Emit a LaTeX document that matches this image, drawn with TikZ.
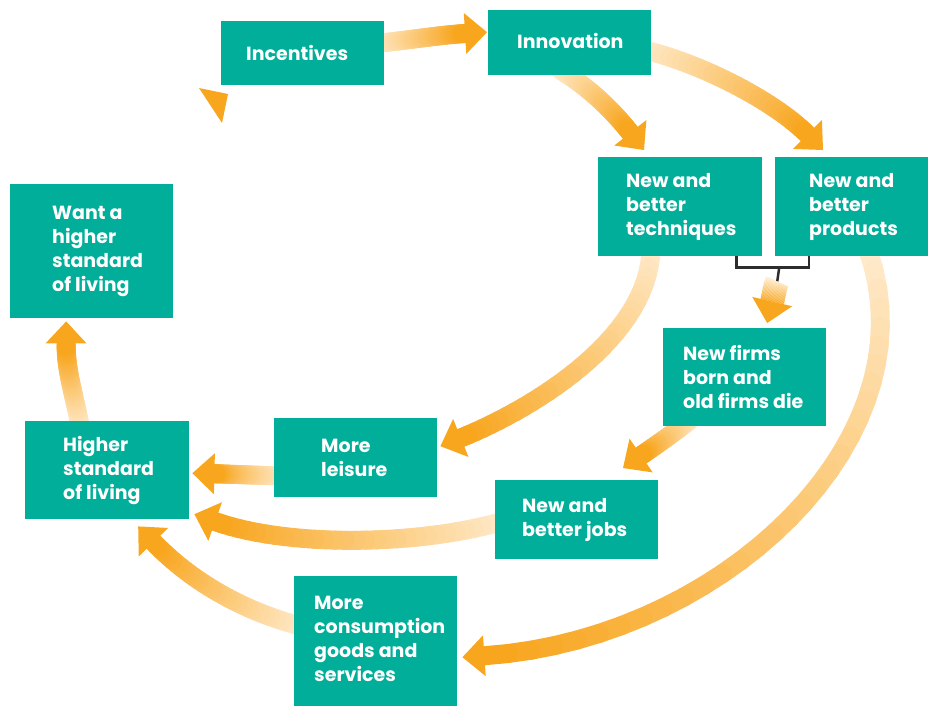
\documentclass[tikz,border=0pt]{standalone}
\usepackage{fontspec}
\setmainfont{Poppins}
\usetikzlibrary{calc,backgrounds}
\definecolor{boxteal}{RGB}{0,174,153}
\definecolor{aorange}{RGB}{248,166,30}
\definecolor{apale}{RGB}{255,234,203}
\definecolor{brkcol}{RGB}{45,45,45}
\tikzset{
  box/.style={fill=boxteal, draw=none, inner sep=0pt, anchor=north west},
  txt/.style={text=white, font=\bfseries\fontsize{19}{24}\selectfont, align=left, inner sep=0pt, anchor=west},
  brk/.style={draw=brkcol, line width=2.5pt}
}
% #1 extra band style, #2 start, #3 ctrl1, #4 ctrl2, #5 tip, #6 id
\newcommand\garrow[6][]{%
  \coordinate (#6-d) at ($(#5)!22pt!(#4)$);
  \path (#2) .. controls (#3) and (#4) .. (#6-d)
    \foreach \i [evaluate=\i as \t using \i/30] in {0,...,30} {coordinate[pos=\t] (#6-\i)};
  \foreach \i [evaluate=\i as \j using int(\i+1), evaluate=\i as \c using 100*\i/29] in {0,...,29}
    {\draw[line width=19pt, line cap=round, color=aorange!\c!apale, #1] (#6-\i) -- (#6-\j);}
  \fill[aorange] (#5) -- ($(#6-d)!20.5pt!90:(#4)$) -- ($(#6-d)!20.5pt!-90:(#4)$) -- cycle;
}
\begin{document}
\begin{tikzpicture}[x=1pt,y=-1pt]
\useasboundingbox (0,0) rectangle (928,706);
% boxes
\node[box, minimum width=163pt, minimum height=64pt] (inc) at (221,21) {};
\node[box, minimum width=163pt, minimum height=65pt] (innov) at (488,10) {};
\node[box, minimum width=164pt, minimum height=99pt] (tech) at (598,157) {};
\node[box, minimum width=153pt, minimum height=99pt] (prod) at (775,157) {};
\node[box, minimum width=163pt, minimum height=134pt] (want) at (10,184) {};
\node[box, minimum width=163pt, minimum height=98pt] (firms) at (663,328) {};
\node[box, minimum width=164pt, minimum height=98pt] (higher) at (25,421) {};
\node[box, minimum width=163pt, minimum height=79pt] (leisure) at (274,418) {};
\node[box, minimum width=163pt, minimum height=79pt] (jobs) at (495,480) {};
\node[box, minimum width=163pt, minimum height=130pt] (cons) at (294,576) {};
% texts
\node[txt] (tinc) at ($(inc.west)+(25,0)$) {Incentives};
\node[txt] (tinnov) at ($(innov.west)+(29,-2)$) {Innovation};
\node[txt] (ttech) at ($(tech.west)+(28,0)$) {New and\\better\\techniques};
\node[txt] (tprod) at ($(prod.west)+(34,0)$) {New and\\better\\products};
\node[txt] (twant) at ($(want.west)+(42,0)$) {Want a\\higher\\standard\\of living};
\node[txt] (tfirms) at ($(firms.west)+(20,0)$) {New firms\\born and\\old firms die};
\node[txt] (thigher) at ($(higher.west)+(38,0)$) {Higher\\standard\\of living};
\node[txt] (tleisure) at ($(leisure.west)+(47,0)$) {More\\leisure};
\node[txt] (tjobs) at ($(jobs.west)+(27,0)$) {New and\\better jobs};
\node[txt] (tcons) at ($(cons.west)+(20,-2)$) {More\\consumption\\goods and\\services};
\begin{pgfonlayer}{background}
  % bracket joining techniques and products
  \coordinate (brL) at ($(tech.south east)+(-26,0)$);
  \coordinate (brR) at ($(prod.south west)+(34,0)$);
  \draw[brk] (brL) -- ++(0,11) -| (brR);
  \coordinate (stemtop) at ($(brL)!0.59!(brR)+(0,11)$);
  \coordinate (stembot) at ($(stemtop)+(-2,14)$);
  \draw[brk] (stemtop) -- (stembot);
  % arrows
  \garrow{$(inc.east)+(-6,-10)$}{410,40}{440,35}{$(innov.west)+(-1,-10.5)$}{a1}
  \garrow{560,70}{590,88}{613,111}{$(tech.north west)+(46,-7)$}{a2}
  \garrow{645,50}{705,65}{775,102}{$(prod.north west)+(48,-7)$}{a3}
  \garrow{651,250}{648,340}{530,410}{$(leisure.east)+(3,-11.5)$}{a4}
  \garrow{868,250}{935,440}{720,640}{$(cons.east)+(5,16)$}{a5}
  \garrow[line width=24pt, line cap=butt]{stembot}{775,286}{773.5,296}{$(firms.north)+(22.5,-5)$}{a6}
  \garrow{690,420}{675,432}{655,446}{$(jobs.north west)+(128,-12)$}{a7}
  \garrow{500,522}{420,545}{290,548}{$(higher.east)+(5,44)$}{a8}
  \garrow{280,476}{250,475}{225,474}{$(higher.east)+(3,3)$}{a9}
  \garrow{300,626}{240,610}{190,580}{$(higher.south)+(31,7)$}{a10}
  \garrow{80,425}{73,390}{66,370}{$(want.south)+(-25.5,3)$}{a11}
\end{pgfonlayer}
% loose arrowhead below Incentives
\fill[aorange] (199,88) -- (228,94) -- (222,123) -- cycle;
\end{tikzpicture}
\end{document}
